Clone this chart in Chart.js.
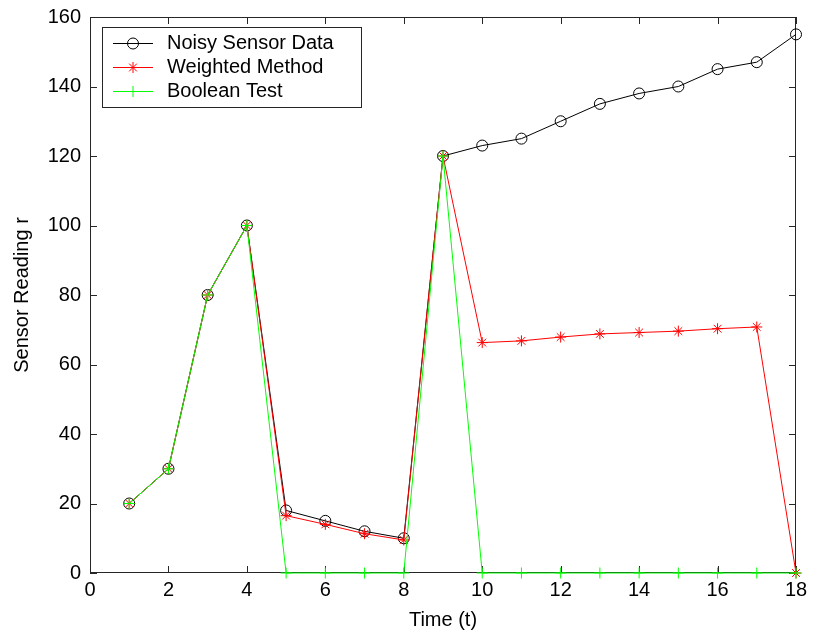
<!DOCTYPE html>
<html>
<head>
<meta charset="utf-8">
<script src="https://cdn.jsdelivr.net/npm/chart.js@4.4.0/dist/chart.umd.min.js"></script>
<style>
  html, body { margin: 0; padding: 0; background: #fff; }
</style>
</head>
<body>
<canvas id="chart" width="813" height="637"></canvas>
<script>
// values
const timeSteps = [1, 2, 3, 4, 5, 6, 7, 8, 9, 10, 11, 12, 13, 14, 15, 16, 17, 18];
const noisySensor = [20, 30, 80, 100, 18, 15, 12, 10, 120, 123, 125, 130, 135, 138, 140, 145, 147, 155];
const weightedMethod = [20, 30, 80, 100, 16.5, 14, 11.3, 9.5, 120, 66.3, 66.8, 67.9, 68.8, 69.2, 69.6, 70.3, 70.8, 0];
const booleanTest = [20, 30, 80, 100, 0, 0, 0, 0, 120, 0, 0, 0, 0, 0, 0, 0, 0, 0];
const xTickValues = [0, 2, 4, 6, 8, 10, 12, 14, 16, 18];
const yTickValues = [0, 20, 40, 60, 80, 100, 120, 140, 160];

const FONT = 'Arial, "Liberation Sans", sans-serif';

const toPoints = (vals) => vals.map((v, i) => ({ x: timeSteps[i], y: v }));

// box + inward ticks like the old matlab axes
const matlabFrame = {
    id: 'matlabFrame',
    beforeDatasetsDraw(chart) {
        const { ctx, chartArea: a, scales: { x, y } } = chart;
        ctx.save();
        ctx.strokeStyle = '#262626';
        ctx.lineWidth = 1;
        ctx.strokeRect(a.left + 0.5, a.top + 0.5, a.right - a.left - 1, a.bottom - a.top - 1);
        ctx.beginPath();
        x.ticks.forEach(t => {
            const px = Math.round(x.getPixelForValue(t.value)) + 0.5;
            ctx.moveTo(px, a.bottom); ctx.lineTo(px, a.bottom - 7);
            ctx.moveTo(px, a.top); ctx.lineTo(px, a.top + 7);
        });
        y.ticks.forEach(t => {
            const py = Math.round(y.getPixelForValue(t.value)) + 0.5;
            ctx.moveTo(a.left, py); ctx.lineTo(a.left + 7, py);
            ctx.moveTo(a.right, py); ctx.lineTo(a.right - 7, py);
        });
        ctx.stroke();
        ctx.restore();
    }
};

// legend in a box inside the axes, line + marker sample
const boxLegend = {
    id: 'boxLegend',
    afterDatasetsDraw(chart) {
        const { ctx, chartArea: a } = chart;
        const x0 = a.left + 12, y0 = a.top + 10, w = 259, h = 80;
        ctx.save();
        ctx.fillStyle = '#fff';
        ctx.fillRect(x0, y0, w, h);
        ctx.strokeStyle = '#262626';
        ctx.lineWidth = 1;
        ctx.strokeRect(x0 + 0.5, y0 + 0.5, w, h);
        chart.data.datasets.forEach((ds, i) => {
            const cy = Math.round(y0 + 16 + i * 24.2) + 0.5;
            ctx.strokeStyle = ds.borderColor;
            ctx.lineWidth = 1;
            ctx.beginPath();
            ctx.moveTo(x0 + 11, cy);
            ctx.lineTo(x0 + 51, cy);
            ctx.stroke();
            ctx.fillStyle = 'rgba(0,0,0,0)';
            Chart.helpers.drawPoint(ctx, {
                pointStyle: ds.pointStyle, radius: ds.pointRadius, rotation: 0, borderWidth: 1
            }, x0 + 31, cy);
            ctx.fillStyle = '#000';
            ctx.font = '20px ' + FONT;
            ctx.textBaseline = 'middle';
            ctx.textAlign = 'left';
            ctx.fillText(ds.label, x0 + 65, cy);
        });
        ctx.restore();
    }
};

new Chart(document.getElementById('chart'), {
    type: 'line',
    data: {
        datasets: [
            {
                label: 'Noisy Sensor Data',
                data: toPoints(noisySensor),
                borderColor: '#000000',
                pointStyle: 'circle',
                pointRadius: 5.5,
                order: 3
            },
            {
                label: 'Weighted Method',
                data: toPoints(weightedMethod),
                borderColor: '#ff0000',
                pointStyle: 'star',
                pointRadius: 5.5,
                order: 2
            },
            {
                label: 'Boolean Test',
                data: toPoints(booleanTest),
                borderColor: '#00ff00',
                pointStyle: 'cross',
                pointRadius: 5.5,
                order: 1
            }
        ].map(ds => Object.assign(ds, {
            borderWidth: 1,
            pointBorderColor: ds.borderColor,
            pointBackgroundColor: 'rgba(0,0,0,0)',
            pointBorderWidth: 1,
            tension: 0,
            clip: false
        }))
    },
    options: {
        responsive: false,
        animation: false,
        events: [],
        layout: { padding: { top: 17, right: 17, left: 0, bottom: 0 } },
        plugins: {
            legend: { display: false },
            tooltip: { enabled: false }
        },
        scales: {
            x: {
                type: 'linear',
                min: 0,
                max: 18,
                afterBuildTicks: s => { s.ticks = xTickValues.map(v => ({ value: v })); },
                afterFit: s => { s.height = 64; s.paddingLeft = 0; s.paddingRight = 0; },
                grid: { drawOnChartArea: false, drawTicks: false },
                border: { display: false },
                ticks: { color: '#000', padding: 5, maxRotation: 0, font: { family: FONT, size: 20 } },
                title: {
                    display: true, text: 'Time (t)', color: '#000',
                    font: { family: FONT, size: 20 }, padding: { top: 0, bottom: 5 }
                }
            },
            y: {
                type: 'linear',
                min: 0,
                max: 160,
                afterBuildTicks: s => { s.ticks = yTickValues.map(v => ({ value: v })); },
                afterFit: s => { s.width = 90; s.paddingTop = 0; s.paddingBottom = 0; },
                grid: { drawOnChartArea: false, drawTicks: false },
                border: { display: false },
                ticks: { color: '#000', padding: 9, font: { family: FONT, size: 20 } },
                title: {
                    display: true, text: 'Sensor Reading r', color: '#000',
                    font: { family: FONT, size: 20 }, padding: { top: 10, bottom: 0 }
                }
            }
        }
    },
    plugins: [matlabFrame, boxLegend]
});
</script>
</body>
</html>
